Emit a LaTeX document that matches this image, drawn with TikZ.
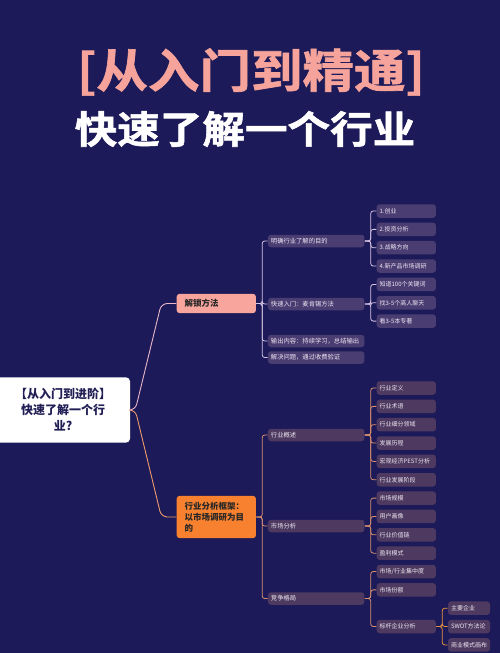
\documentclass[tikz,border=0pt]{standalone}
\usepackage{fontspec}
\setmainfont{Noto Sans CJK SC}
\newfontfamily\titlefont{Noto Sans CJK SC Bold}[FakeBold=1.5, FakeStretch=1.12]
\usetikzlibrary{positioning}

\definecolor{bgnavy}{HTML}{1C1A58}
\definecolor{titlepink}{HTML}{F5A39B}
\definecolor{rootink}{HTML}{221F55}
\definecolor{pinkbox}{HTML}{F8A59D}
\definecolor{orangebox}{HTML}{F7812F}
\definecolor{leafA}{HTML}{4A3D72}
\definecolor{leafB}{HTML}{4E3A60}
\definecolor{leaftext}{HTML}{EEE6F2}
\definecolor{lilac}{HTML}{D8C4E4}
\definecolor{rosy}{HTML}{E9B7C9}
\definecolor{salmon}{HTML}{D98F6E}
\definecolor{peach}{HTML}{EE9A6B}
\definecolor{amber}{HTML}{E8923E}

\begin{document}
\begin{tikzpicture}[x=1pt, y=-1pt, node distance=18.35pt, on grid, semithick]
	\tikzstyle{rootbox} = [rectangle, fill=white, rounded corners=4pt, minimum width=134pt, minimum height=65.3pt, align=center, text=rootink, font={\bfseries\fontsize{12}{16}\selectfont}]
	\tikzstyle{main} = [rectangle, rounded corners=3pt, inner xsep=8pt, text width=63.3pt, align=left, text=black!85, font={\bfseries\fontsize{8.5}{11}\selectfont}]
	\tikzstyle{leaf} = [rectangle, rounded corners=3pt, fill=leafA, text=leaftext, minimum height=13.5pt, text width=53.3pt, inner xsep=3pt, inner ysep=0pt, align=left, font={\fontsize{6}{7}\selectfont}]
	\tikzstyle{leafB} = [leaf, fill=leafB]
	\tikzstyle{sub} = [leaf, text width=90.5pt, minimum height=12.5pt, font={\fontsize{6.3}{7}\selectfont}]
	\tikzstyle{subB} = [sub, fill=leafB]
	\tikzstyle{tip} = [leafB, text width=36pt]
	\tikzstyle{trunk} = [rounded corners=6pt, to path={-- ++(5pt,0) -- ([xshift=-15pt]\tikztotarget) -- (\tikztotarget)}]
	\tikzstyle{fork} = [rounded corners=2.5pt, to path={-- ++(6,0) |- (\tikztotarget)}]

	\useasboundingbox[fill=bgnavy] (0,0) rectangle (500,653);

	% title
	\node[font={\titlefont\fontsize{46}{50}\selectfont}, text=titlepink] (headline) at (251,72) {[从入门到精通]};
	\node[font={\titlefont\fontsize{38}{44}\selectfont}, text=white] (subline) at (245,129) {快速了解一个行业};

	% root and the two main branches
	\node[rootbox] (root) at (63,410) {【从入门到进阶】\\快速了解一个行\\业?};
	\node[main, fill=pinkbox, minimum height=19.3pt] (unlock) at (216.3,303.5) {解锁方法};
	\node[main, fill=orangebox, minimum height=42.3pt] (frame) at (216.3,517) {行业分析框架：\\以市场调研为目\\的};

	% branch 1
	\node[sub] (goal) at (316.2,241) {明确行业了解的目的};
	\node[sub] (quick) at (316.2,304) {快速入门：麦肯锡方法};
	\node[sub] (output) at (316.2,341) {输出内容：持续学习，总结输出};
	\node[sub] (verify) at (316.2,357.5) {解决问题，通过收费验证};

	\node[leaf] (g1) at (406.3,211) {1.创业};
	\node[leaf] (g2) [below=of g1] {2.投资分析};
	\node[leaf] (g3) [below=of g2] {3.战略方向};
	\node[leaf] (g4) [below=of g3] {4.新产品市场调研};
	\node[leaf] (q1) [below=of g4] {知道100个关键词};
	\node[leaf] (q2) [below=of q1] {找3-5个高人聊天};
	\node[leaf] (q3) [below=of q2] {看3-5本专著};

	% branch 2
	\node[subB] (overview) at (316.2,435) {行业概述};
	\node[subB] (market) at (316.2,526) {市场分析};
	\node[subB] (compete) at (316.2,598.5) {竞争格局};

	\node[leafB] (o1) at (406.3,388) {行业定义};
	\node[leafB] (o2) [below=of o1] {行业术语};
	\node[leafB] (o3) [below=of o2] {行业细分领域};
	\node[leafB] (o4) [below=of o3] {发展历程};
	\node[leafB] (o5) [below=of o4] {宏观经济PEST分析};
	\node[leafB] (o6) [below=of o5] {行业发展阶段};
	\node[leafB] (m1) [below=of o6] {市场规模};
	\node[leafB] (m2) [below=of m1] {用户画像};
	\node[leafB] (m3) [below=of m2] {行业价值链};
	\node[leafB] (m4) [below=of m3] {盈利模式};
	\node[leafB] (c1) [below=of m4] {市场/行业集中度};
	\node[leafB] (c2) [below=of c1] {市场份额};
	\node[leafB] (c3) [below=36.7pt of c2] {标杆企业分析};

	\node[tip] (b2) [right=62.7pt of c3] {SWOT方法论};
	\node[tip] (b1) [above=of b2] {主要企业};
	\node[tip] (b3) [below=of b2] {商业模式画布};

	% connectors
	\path[rosy, line width=0.9pt] (root.east) edge[trunk] (unlock.west);
	\path[peach, line width=0.9pt] (root.east) edge[trunk] (frame.west);

	\path[lilac, line width=0.8pt]
	(unlock.east) edge[fork] (goal.west)
		edge[fork] (quick.west)
		edge[fork] (output.west)
		edge[fork] (verify.west)
	(goal.east) edge[fork] (g1.west)
		edge[fork] (g2.west)
		edge[fork] (g3.west)
		edge[fork] (g4.west)
	(quick.east) edge[fork] (q1.west)
		edge[fork] (q2.west)
		edge[fork] (q3.west);

	\path[salmon, line width=0.8pt]
	(frame.east) edge[fork] (overview.west)
		edge[fork] (market.west)
		edge[fork] (compete.west)
	(overview.east) edge[fork] (o1.west)
		edge[fork] (o2.west)
		edge[fork] (o3.west)
		edge[fork] (o4.west)
		edge[fork] (o5.west)
		edge[fork] (o6.west)
	(market.east) edge[fork] (m1.west)
		edge[fork] (m2.west)
		edge[fork] (m3.west)
		edge[fork] (m4.west)
	(compete.east) edge[fork] (c1.west)
		edge[fork] (c2.west)
		edge[fork] (c3.west);

	\path[amber, line width=0.8pt]
	(c3.east) edge[fork] (b1.west)
		edge[fork] (b2.west)
		edge[fork] (b3.west);
\end{tikzpicture}
\end{document}
